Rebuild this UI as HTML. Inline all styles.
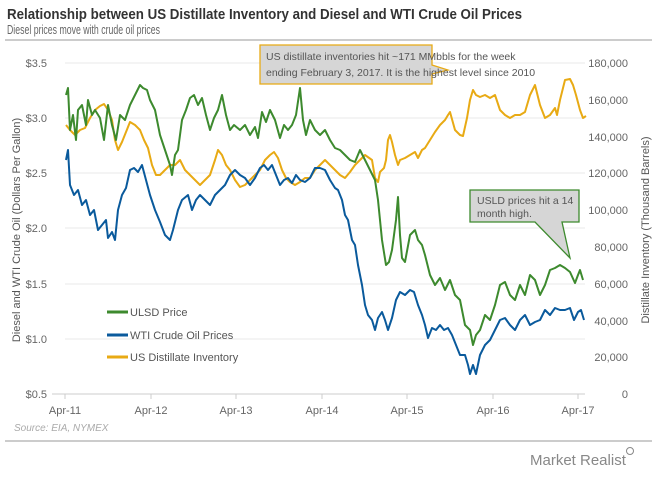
<!DOCTYPE html>
<html><head><meta charset="utf-8"><style>
body{margin:0;background:#fff;}
svg text{font-family:"Liberation Sans",sans-serif;}
</style></head><body>
<svg width="660" height="472" viewBox="0 0 660 472" xmlns="http://www.w3.org/2000/svg">
<text x="7" y="19" font-size="14.5" font-weight="bold" fill="#333" textLength="515" lengthAdjust="spacingAndGlyphs">Relationship between US Distillate Inventory and Diesel and WTI Crude Oil Prices</text>
<text x="7" y="34" font-size="12.5" fill="#666" textLength="153" lengthAdjust="spacingAndGlyphs">Diesel prices move with crude oil prices</text>
<line x1="5" y1="40" x2="652" y2="40" stroke="#bbb" stroke-width="1.5"/>
<g stroke="#e8e8e8" stroke-width="1">
<line x1="65" y1="63" x2="585" y2="63"/><line x1="65" y1="118" x2="585" y2="118"/><line x1="65" y1="173" x2="585" y2="173"/><line x1="65" y1="228" x2="585" y2="228"/><line x1="65" y1="284" x2="585" y2="284"/><line x1="65" y1="339" x2="585" y2="339"/>
</g>
<line x1="52" y1="394" x2="585" y2="394" stroke="#ccc"/>
<g stroke="#ccc"><line x1="65" y1="394" x2="65" y2="399"/><line x1="151" y1="394" x2="151" y2="399"/><line x1="236" y1="394" x2="236" y2="399"/><line x1="322" y1="394" x2="322" y2="399"/><line x1="407" y1="394" x2="407" y2="399"/><line x1="493" y1="394" x2="493" y2="399"/><line x1="578" y1="394" x2="578" y2="399"/></g>
<g font-size="11" fill="#666" text-anchor="end">
<text x="47" y="67">$3.5</text><text x="47" y="122">$3.0</text><text x="47" y="177">$2.5</text><text x="47" y="232">$2.0</text><text x="47" y="288">$1.5</text><text x="47" y="343">$1.0</text><text x="47" y="398">$0.5</text>
</g>
<g font-size="11" fill="#666" text-anchor="end">
<text x="628" y="67">180,000</text><text x="628" y="104">160,000</text><text x="628" y="141">140,000</text><text x="628" y="177">120,000</text><text x="628" y="214">100,000</text><text x="628" y="251">80,000</text><text x="628" y="288">60,000</text><text x="628" y="325">40,000</text><text x="628" y="361">20,000</text><text x="628" y="398">0</text>
</g>
<g font-size="11" fill="#666" text-anchor="middle">
<text x="65" y="414">Apr-11</text><text x="151" y="414">Apr-12</text><text x="236" y="414">Apr-13</text><text x="322" y="414">Apr-14</text><text x="407" y="414">Apr-15</text><text x="493" y="414">Apr-16</text><text x="578" y="414">Apr-17</text>
</g>
<text transform="translate(20,230) rotate(-90)" font-size="11" fill="#555" text-anchor="middle">Diesel and WTI Crude Oil (Dollars Per Gallon)</text>
<text transform="translate(649,230) rotate(-90)" font-size="11" fill="#555" text-anchor="middle">Distillate Inventory (Thousand Barrels)</text>
<text x="14" y="431" font-size="10" font-style="italic" fill="#aaa">Source: EIA, NYMEX</text>
<line x1="5" y1="441" x2="652" y2="441" stroke="#bbb" stroke-width="1.5"/>
<text x="530" y="465" font-size="15" fill="#888">Market Realist</text>
<circle cx="630" cy="451" r="3.5" fill="none" stroke="#888"/>
<g fill="none" stroke-width="2" stroke-linejoin="round">
<polyline stroke="#e8aa14" points="66,125 70,130 75,135 80,130 85,128 90,118 95,110 100,106 104,104 108,110 112,120 115,140 118,150 122,142 126,132 130,122 135,125 140,130 144,140 148,148 152,165 156,175 160,175 165,170 170,165 175,165 180,160 185,170 190,175 195,180 200,185 205,180 210,175 215,160 218,150 222,155 226,165 230,170 235,180 240,187 245,185 250,180 255,175 260,170 265,160 270,155 274,152 278,158 282,170 286,178 290,182 295,185 300,182 305,178 310,178 315,170 320,165 325,160 330,165 335,170 340,175 345,178 350,172 355,165 360,160 365,155 372,160 375,178 378,182 380,172 384,168 386,160 388,140 390,135 392,142 395,155 398,165 400,160 405,158 410,155 415,152 418,158 422,150 425,148 430,140 435,132 440,125 445,120 448,115 450,112 455,130 460,135 463,136 467,118 470,100 473,90 476,95 480,97 485,95 490,98 495,95 500,110 505,115 510,118 515,115 520,115 525,112 530,95 535,85 540,105 545,118 550,115 555,108 557,115 560,100 565,80 570,79 573,85 576,95 580,110 583,118 586,116"/>
<polyline stroke="#3d8a2e" points="66,95 68,88 70,130 73,115 76,140 78,110 82,105 86,125 88,100 92,115 95,110 100,118 104,140 108,105 112,125 116,140 120,115 125,120 130,105 135,95 140,85 143,88 147,90 150,100 155,110 160,135 165,150 170,165 172,175 175,155 178,150 182,120 186,110 190,98 194,95 198,105 202,98 206,115 210,130 214,118 218,110 222,95 226,115 230,130 234,125 240,130 245,125 250,135 255,127 258,138 262,112 266,122 270,110 275,120 280,138 284,125 288,130 292,125 296,115 300,88 303,120 306,135 310,120 315,130 320,135 325,130 330,140 335,148 340,150 345,155 350,160 355,162 360,150 365,160 370,170 375,180 378,200 382,240 386,265 389,262 392,250 396,220 398,197 400,235 402,258 405,262 410,235 415,230 418,240 422,245 425,255 430,275 435,285 440,278 445,290 450,280 455,295 460,300 465,325 470,330 473,345 476,335 480,330 485,315 490,320 495,305 500,285 505,282 510,295 515,300 520,285 525,295 530,275 535,280 540,295 545,285 550,270 555,268 560,265 565,268 570,272 575,283 578,275 580,270 583,280"/>
<polyline stroke="#0a5a9c" points="66,160 68,150 70,185 74,195 78,190 82,205 86,200 90,215 94,210 98,230 102,225 106,220 108,238 112,232 115,240 118,210 122,195 126,188 130,170 134,168 138,172 142,165 146,180 150,195 155,210 160,222 165,235 170,240 173,230 178,210 182,200 188,195 192,210 196,200 200,195 205,200 210,205 215,195 220,190 225,185 230,175 235,170 240,175 245,178 250,185 255,178 260,168 264,165 268,170 272,165 276,175 280,185 284,180 288,178 292,183 296,175 300,180 305,182 310,178 315,168 320,168 325,170 330,180 335,188 338,190 342,200 345,215 348,220 352,240 355,245 358,265 362,285 365,305 368,315 372,320 375,330 378,318 382,312 385,320 388,330 392,318 396,300 400,292 405,295 410,290 414,292 418,305 422,315 425,325 428,338 432,328 436,330 440,325 444,330 448,328 452,335 456,345 460,355 465,355 468,365 470,374 473,365 476,374 480,355 485,345 490,340 495,330 500,320 505,318 510,325 515,330 520,320 525,315 530,325 535,322 540,320 545,310 550,315 555,308 560,310 565,310 570,308 574,320 578,312 581,310 584,320"/>
</g>
<g stroke-width="3"><line x1="107" y1="312" x2="128" y2="312" stroke="#3d8a2e"/><line x1="107" y1="335" x2="128" y2="335" stroke="#0a5a9c"/><line x1="107" y1="357" x2="128" y2="357" stroke="#e8aa14"/></g>
<g font-size="11" fill="#555"><text x="130" y="316">ULSD Price</text><text x="130" y="339">WTI Crude Oil Prices</text><text x="130" y="361">US Distillate Inventory</text></g>
<path d="M260,45 H432 V65 L448,70 L432,74 V84 H260 Z" fill="#d6d6d6" stroke="#e8aa14" stroke-width="1.3"/>
<text x="266" y="60" font-size="10.5" fill="#555">US distillate inventories  hit ~171 MMbbls for the week</text>
<text x="266" y="76" font-size="10.5" fill="#555">ending  February 3, 2017. It is the highest level since 2010</text>
<path d="M470,190 H579 V222 H562 L570,258 L535,222 H470 Z" fill="#d6d6d6" stroke="#3d8a2e" stroke-width="1.3"/>
<text x="477" y="204" font-size="10.5" fill="#555">USLD prices hit a 14</text>
<text x="477" y="217" font-size="10.5" fill="#555">month high.</text>
</svg>
</body></html>
